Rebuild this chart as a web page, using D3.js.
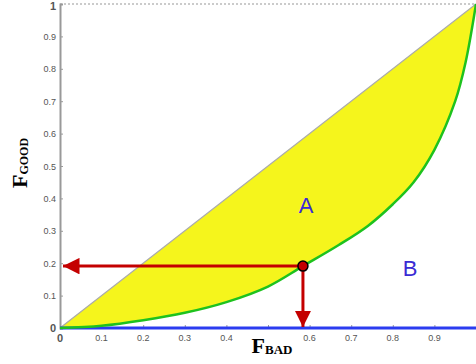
<!DOCTYPE html>
<html>
<head>
<meta charset="utf-8">
<script src="https://cdn.jsdelivr.net/npm/d3@7"></script>
<style>
  body { margin: 0; background: #fff; }
</style>
</head>
<body>
<div id="chart"></div>
<script>
// curve (F_BAD, F_GOOD)
var curveX = [0, 0.1, 0.2, 0.3, 0.4, 0.5, 0.584, 0.67, 0.74, 0.8, 0.85, 0.9, 0.95, 0.975, 1];
var curveY = [0, 0.007, 0.024, 0.047, 0.08, 0.128, 0.191, 0.256, 0.315, 0.382, 0.45, 0.55, 0.70, 0.82, 1];
var xTicks = [0, 0.1, 0.2, 0.3, 0.4, 0.5, 0.6, 0.7, 0.8, 0.9];
var yTicks = [0, 0.1, 0.2, 0.3, 0.4, 0.5, 0.6, 0.7, 0.8, 0.9, 1];
var point = [0.584, 0.191];

var width = 476, height = 364;
var svg = d3.select("#chart").append("svg")
    .attr("width", width)
    .attr("height", height);

var x = d3.scaleLinear().domain([0, 1]).range([60, 476]);
var y = d3.scaleLinear().domain([0, 1]).range([328, 4]);

var curve = curveX.map(function (d, i) { return [d, curveY[i]]; });

// yellow region between diagonal and curve
var area = d3.area()
    .x(function (d) { return x(d[0]); })
    .y0(function (d) { return y(d[0]); })
    .y1(function (d) { return y(d[1]); })
    .curve(d3.curveCatmullRom);

svg.append("path")
    .datum(curve)
    .attr("d", area)
    .attr("fill", "#f5f51c");

// top border dotted
svg.append("line")
    .attr("x1", x(0)).attr("x2", x(1))
    .attr("y1", y(1)).attr("y2", y(1))
    .attr("stroke", "#bbb")
    .attr("stroke-width", 1.5)
    .attr("stroke-dasharray", "2,2");

// diagonal
svg.append("line")
    .attr("x1", x(0)).attr("y1", y(0))
    .attr("x2", x(1)).attr("y2", y(1))
    .attr("stroke", "#aaa")
    .attr("stroke-width", 1.2);

// y axis
var yAxis = d3.axisRight(y).tickValues(yTicks).tickSize(3).tickFormat("");
svg.append("g")
    .attr("transform", "translate(" + x(0) + ",0)")
    .call(yAxis)
    .call(function (g) {
        g.select(".domain").attr("stroke", "#999").attr("stroke-width", 2);
        g.selectAll(".tick line").attr("stroke", "#999");
    });

svg.append("g")
    .selectAll("text")
    .data(yTicks)
    .join("text")
    .attr("x", 56)
    .attr("y", function (d) { return d === 1 ? 10 : y(d) + 3.5; })
    .attr("text-anchor", "end")
    .attr("font-family", "Arial, 'Liberation Sans', sans-serif")
    .attr("font-size", function (d) { return d === 0 || d === 1 ? 11 : 9; })
    .attr("font-weight", function (d) { return d === 0 || d === 1 ? "bold" : "normal"; })
    .attr("fill", "#555")
    .text(function (d) { return d3.format("")(d); });

// x axis ticks
var xAxis = d3.axisTop(x).tickValues(xTicks).tickSize(3).tickFormat("");
svg.append("g")
    .attr("transform", "translate(0," + y(0) + ")")
    .call(xAxis)
    .call(function (g) {
        g.select(".domain").remove();
        g.selectAll(".tick line").attr("stroke", "#999");
    });

svg.append("g")
    .selectAll("text")
    .data(xTicks.filter(function (d) { return d !== 0.5; }))
    .join("text")
    .attr("x", function (d) { return x(d); })
    .attr("y", function (d) { return d === 0 ? 342 : 341; })
    .attr("text-anchor", "middle")
    .attr("font-family", "Arial, 'Liberation Sans', sans-serif")
    .attr("font-size", function (d) { return d === 0 ? 11 : 9; })
    .attr("font-weight", function (d) { return d === 0 ? "bold" : "normal"; })
    .attr("fill", "#555")
    .text(function (d) { return d3.format("")(d); });

// bottom blue line
svg.append("line")
    .attr("x1", x(0)).attr("x2", x(1))
    .attr("y1", y(0)).attr("y2", y(0))
    .attr("stroke", "#2b3cf0")
    .attr("stroke-width", 3);

// green curve
var line = d3.line()
    .x(function (d) { return x(d[0]); })
    .y(function (d) { return y(d[1]); })
    .curve(d3.curveCatmullRom);

svg.append("path")
    .datum(curve)
    .attr("d", line)
    .attr("fill", "none")
    .attr("stroke", "#1ec21e")
    .attr("stroke-width", 2.5);

// red arrows
var red = "#c40000";
var defs = svg.append("defs");
defs.append("marker")
    .attr("id", "arrow")
    .attr("viewBox", "0 0 10 10")
    .attr("refX", 10).attr("refY", 5)
    .attr("markerWidth", 5.5).attr("markerHeight", 5.5)
    .attr("markerUnits", "strokeWidth")
    .attr("orient", "auto")
    .append("path")
    .attr("d", "M0,0 L10,5 L0,10 Z")
    .attr("fill", red);

svg.append("line")
    .attr("x1", x(point[0])).attr("y1", y(point[1]))
    .attr("x2", x(0) + 3).attr("y2", y(point[1]))
    .attr("stroke", red)
    .attr("stroke-width", 3)
    .attr("marker-end", "url(#arrow)");

svg.append("line")
    .attr("x1", x(point[0])).attr("y1", y(point[1]))
    .attr("x2", x(point[0])).attr("y2", y(0) - 1)
    .attr("stroke", red)
    .attr("stroke-width", 3)
    .attr("marker-end", "url(#arrow)");

svg.append("circle")
    .attr("cx", x(point[0]))
    .attr("cy", y(point[1]))
    .attr("r", 5)
    .attr("fill", red)
    .attr("stroke", "#000")
    .attr("stroke-width", 1.5);

// region labels
svg.append("text")
    .attr("x", 306).attr("y", 213)
    .attr("text-anchor", "middle")
    .attr("font-family", "Arial, 'Liberation Sans', sans-serif")
    .attr("font-size", 22)
    .attr("fill", "#3b2bd4")
    .text("A");

svg.append("text")
    .attr("x", 410).attr("y", 276)
    .attr("text-anchor", "middle")
    .attr("font-family", "Arial, 'Liberation Sans', sans-serif")
    .attr("font-size", 22)
    .attr("fill", "#3b2bd4")
    .text("B");

// axis titles
var xt = svg.append("text")
    .attr("x", 272).attr("y", 353)
    .attr("text-anchor", "middle")
    .attr("font-family", "'Liberation Serif', 'Times New Roman', serif")
    .attr("font-weight", "bold")
    .attr("fill", "#000");
xt.append("tspan").attr("font-size", 22).text("F");
xt.append("tspan").attr("font-size", 13).attr("dy", 1).text("BAD");

var yt = svg.append("text")
    .attr("transform", "translate(27,163) rotate(-90)")
    .attr("text-anchor", "middle")
    .attr("font-family", "'Liberation Serif', 'Times New Roman', serif")
    .attr("font-weight", "bold")
    .attr("fill", "#000");
yt.append("tspan").attr("font-size", 22).text("F");
yt.append("tspan").attr("font-size", 12).attr("dy", 1).text("GOOD");
</script>
</body>
</html>
